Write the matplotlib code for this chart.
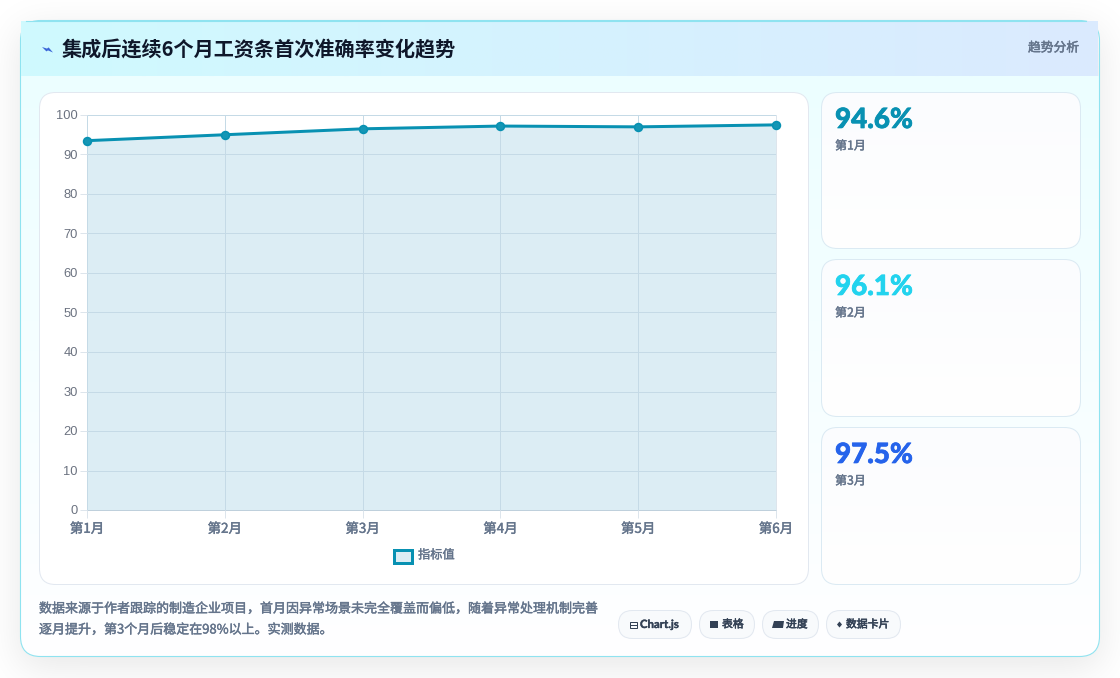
import math

import numpy as np
import matplotlib
matplotlib.use('Agg')
import matplotlib.pyplot as plt
import matplotlib.patheffects as pe
from matplotlib.patches import FancyBboxPatch, Rectangle, Polygon

plt.rcParams['font.family'] = ['Noto Sans CJK SC', 'DejaVu Sans']

months = ['第1月', '第2月', '第3月', '第4月', '第5月', '第6月']
values = [93.5, 95.0, 96.5, 97.2, 97.0, 97.5]
y_ticks = [0, 10, 20, 30, 40, 50, 60, 70, 80, 90, 100]

card_values = ['94.6%', '96.1%', '97.5%']
card_labels = ['第1月', '第2月', '第3月']
card_colors = ['#0891b2', '#22d3ee', '#2563eb']

chip_names = ['Chart.js', '表格', '进度', '数据卡片']

# layout, in pixels
card_tops = [93, 260, 428]
card_bottoms = [248, 416, 584]
chip_left = [618, 699, 762, 826]
chip_right = [691, 754, 818, 900]
chip_text_x = [640, 722, 786, 846]

TEAL = '#0891b2'
INK = '#0f172a'
GREY = '#64748b'
PX = 0.72  # one pixel in points at dpi 100

W, H = 1120, 678


def rbox(ax, x0, y0, x1, y1, r, **kw):
    p = FancyBboxPatch((x0 + r, y0 + r), x1 - x0 - 2 * r, y1 - y0 - 2 * r,
                       boxstyle='round,pad=%f,rounding_size=%f' % (r, r), **kw)
    ax.add_patch(p)
    return p


def blend(ax, x0, y0, x1, y1, c0, c1, vertical=False, clip=None, z=1):
    a = np.array(matplotlib.colors.to_rgb(c0))
    b = np.array(matplotlib.colors.to_rgb(c1))
    if vertical:
        t = np.linspace(0, 1, 256)[:, None, None]
    else:
        t = np.linspace(0, 1, 256)[None, :, None]
    im = ax.imshow(a + (b - a) * t, extent=(x0, x1, y1, y0), aspect='auto',
                   zorder=z, interpolation='bilinear')
    if clip is not None:
        im.set_clip_path(clip)
    return im


def fat(width=0.3, color=GREY):
    # heavier strokes than the font's regular weight
    return [pe.withStroke(linewidth=width, foreground=color)]


def soft_edge(n, lo, hi, sigma):
    erf = np.vectorize(math.erf)
    pos = np.arange(n) + 0.5
    return 0.5 * (erf((pos - lo) / (sigma * math.sqrt(2))) - erf((pos - hi) / (sigma * math.sqrt(2))))


fig = plt.figure(figsize=(W / 100, H / 100), dpi=100, facecolor='white')
bg = fig.add_axes([0, 0, 1, 1])
bg.axis('off')

# blurred drop shadow under the panel
shadow = np.zeros((H, W, 4))
shadow[..., 3] = 0.10 * np.outer(soft_edge(H, 30, 667, 20), soft_edge(W, 20, 1100, 20))
bg.imshow(shadow, extent=(0, W, H, 0), aspect='auto', zorder=0)

# panel
panel = rbox(bg, 20.5, 20.5, 1099.5, 656.5, 20, fc='none', ec='none', zorder=1)
blend(bg, 20, 76, 1100, 657, '#ecfeff', '#ffffff', vertical=True, clip=panel, z=1)
rbox(bg, 20.5, 20.5, 1099.5, 656.5, 20, fc='none', ec='#8fe3f0', lw=PX * 1.1, zorder=2)

# the header strip runs square into the panel corners
blend(bg, 21, 21, 1098, 76, '#cffafe', '#dbeafe', z=3)
bg.plot([26, 1086], [20.5, 20.5], color='#8fe3f0', lw=PX * 1.1, zorder=3)

bg.add_patch(Polygon([(42, 47), (47, 48.6), (48.6, 47.4), (53, 52.5), (48, 50.4), (46.4, 51.4)],
                     fc='#3b66d8', ec='none', zorder=4))
bg.text(62, 49.5, '集成后连续6个月工资条首次准确率变化趋势', fontsize=14.5, fontweight='bold',
        color=INK, va='center', ha='left', zorder=4)
t = bg.text(1079, 48, '趋势分析', fontsize=9.2, color=GREY, va='center', ha='right', zorder=4)
t.set_path_effects(fat(0.35))

# chart card and stat cards
rbox(bg, 39.5, 92.5, 808.5, 584.5, 16, fc='white', ec='#e2e8f0', lw=PX, zorder=4)
for top, bottom, val, lab, col in zip(card_tops, card_bottoms, card_values, card_labels, card_colors):
    c = rbox(bg, 821.5, top - 0.5, 1080.5, bottom + 0.5, 16, fc='none', ec='none', zorder=4)
    blend(bg, 821, top, 1081, bottom, '#fbfcfe', '#ffffff', vertical=True, clip=c, z=4)
    rbox(bg, 821.5, top - 0.5, 1080.5, bottom + 0.5, 16, fc='none', ec='#dbeaf3', lw=PX, zorder=4.5)
    t = bg.text(835, top + 27, val, fontsize=20, fontweight=900, color=col,
                family=['Lato', 'DejaVu Sans'], va='center', ha='left', zorder=5)
    t.set_path_effects(fat(0.5, col))
    t = bg.text(835, top + 53, lab, fontsize=8.7, color=GREY, va='center', ha='left', zorder=5)
    t.set_path_effects(fat(0.3))

# footer note
for y, line in zip([609, 630], ['数据来源于作者跟踪的制造企业项目，首月因异常场景未完全覆盖而偏低，随着异常处理机制完善',
                                '逐月提升，第3个月后稳定在98%以上。实测数据。']):
    t = bg.text(39, y, line, fontsize=9.36, color=GREY, va='center', ha='left', zorder=5)
    t.set_path_effects(fat(0.3))

# footer chips
DARK = '#334155'
for name, x0, x1, tx in zip(chip_names, chip_left, chip_right, chip_text_x):
    rbox(bg, x0 + 0.5, 610.5, x1 + 0.5, 638.5, 14, fc='#f8fafc', ec='#e2e8f0', lw=PX, zorder=4)
    if name == 'Chart.js':
        t = bg.text(tx, 624.5, name, fontsize=8.2, fontweight='bold', color=DARK,
                    family=['Lato', 'DejaVu Sans'], va='center', ha='left', zorder=5)
        t.set_path_effects(fat(0.25, DARK))
        bg.add_patch(Rectangle((629.5, 621.5), 7, 6, fc='none', ec=DARK, lw=PX, zorder=5))
        bg.plot([629.5, 636.5], [624.5, 624.5], color=DARK, lw=PX, zorder=5)
        continue
    t = bg.text(tx, 624.5, name, fontsize=7.8, color=DARK, va='center', ha='left', zorder=5)
    t.set_path_effects(fat(0.4, DARK))
    if name == '表格':
        bg.add_patch(Rectangle((710, 620.5), 8, 7.5, fc=DARK, ec='none', zorder=5))
    elif name == '进度':
        bg.add_patch(Polygon([(772, 628), (774, 621), (784, 621), (783, 628)],
                             fc=DARK, ec='none', zorder=5))
    else:
        bg.add_patch(Polygon([(839.5, 621.5), (842, 624.5), (839.5, 627.5), (837, 624.5)],
                             fc=DARK, ec='none', zorder=5))

bg.set_xlim(0, W)
bg.set_ylim(H, 0)

# line chart
ax = fig.add_axes([87 / W, 1 - 510 / H, (776 - 87) / W, (510 - 115) / H], zorder=6)
ax.patch.set_alpha(0)
x = np.arange(len(months))
ax.fill_between(x, values, 0, color='#dcedf4', lw=0, zorder=1)
ax.plot(x, values, color=TEAL, lw=PX * 3, zorder=3, clip_on=False,
        marker='o', ms=5.6, mfc='#1596b5', mec=TEAL, mew=1.2)
ax.set_xlim(0, 5)
ax.set_ylim(0, 100)
ax.set_xticks(x)
ax.set_xticklabels(months)
ax.set_yticks(y_ticks)
ax.grid(True, color='#c5dae6', lw=PX, zorder=2)
ax.set_axisbelow(False)
for line in ax.get_xgridlines() + ax.get_ygridlines():
    line.set_zorder(2)
ax.tick_params(axis='x', length=5.8, width=PX, color='#dde5ec', labelcolor=GREY, labelsize=9.7, pad=2.7)
ax.tick_params(axis='y', length=5.2, width=PX, color='#dde5ec', labelcolor='#6b7280', labelsize=9.3, pad=1.5)
for lab in ax.get_yticklabels():
    lab.set_family(['Liberation Sans', 'DejaVu Sans'])
for lab in ax.get_xticklabels():
    lab.set_path_effects(fat(0.3))
for sp in ax.spines.values():
    sp.set_color('#dde5ec')
    sp.set_linewidth(PX)
ax.spines['bottom'].set_color('#bfd0dc')

# legend swatch and label under the plot
bg.add_patch(Rectangle((394, 549.5), 18, 13, fc='#dcedf4', ec=TEAL, lw=PX * 3, zorder=5))
t = bg.text(418, 555, '指标值', fontsize=8.8, color=GREY, va='center', ha='left', zorder=5)
t.set_path_effects(fat(0.25))

fig.savefig('out.png', dpi=100)
